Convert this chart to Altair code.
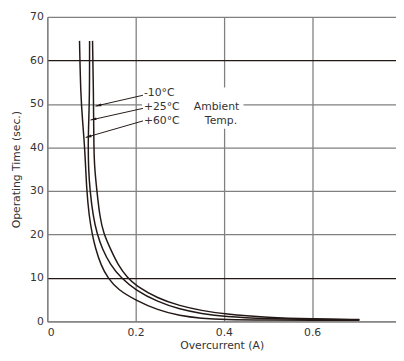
import altair as alt
import pandas as pd

# --- data ---
a_x = [0.073, 0.0757, 0.080, 0.0853, 0.089, 0.095, 0.1016, 0.109, 0.122, 0.137, 0.16, 0.2, 0.25, 0.3, 0.35, 0.4, 0.5, 0.6, 0.707]
a_y = [64.5, 52, 46, 39.3, 30.3, 24, 20.2, 16.8, 12.8, 10, 7.3, 4.9, 2.6, 1.3, 0.7, 0.4, 0.3, 0.3, 0.3]
b_x = [0.0958, 0.0958, 0.0935, 0.0925, 0.0935, 0.0965, 0.104, 0.1127, 0.124, 0.143, 0.167, 0.2, 0.25, 0.3, 0.35, 0.4, 0.5, 0.6, 0.707]
b_y = [64.5, 52, 45, 40, 35, 30.3, 24, 20.2, 16.8, 13, 10, 7.2, 4.5, 2.8, 1.8, 1.1, 0.6, 0.45, 0.4]
c_x = [0.1025, 0.1047, 0.1053, 0.1065, 0.112, 0.119, 0.1276, 0.1425, 0.16, 0.182, 0.2, 0.25, 0.3, 0.35, 0.4, 0.5, 0.6, 0.707]
c_y = [64.5, 52, 41.6, 36, 30.3, 24, 20.2, 16.8, 13, 10, 8.3, 5.3, 3.6, 2.5, 1.7, 0.9, 0.6, 0.45]

label_text = ["-10°C", "+25°C", "+60°C"]
label_x = [0.2189, 0.2189, 0.2189]
label_y = [52.6, 49.3, 46.1]
arrow_x0 = [0.2167, 0.2167, 0.2167]
arrow_y0 = [52.0, 48.98, 46.1]
arrow_x1 = [0.1091, 0.0980, 0.0869]
arrow_y1 = [49.5, 46.3, 42.3]
arrow_angle = [347, 347, 344]

note_text = ["Ambient", "Temp."]
note_x = [0.3318, 0.357]
note_y = [49.3, 46.0]

x_ticks = [0, 0.2, 0.4, 0.6]
y_ticks = [0, 10, 20, 30, 40, 50, 60, 70]

FONT = "DejaVu Sans"
INK = "#231815"
GRID = "#808080"

rows = []
for name, xs_, ys_ in [("+60°C", a_x, a_y), ("+25°C", b_x, b_y), ("-10°C", c_x, c_y)]:
    for i, (xv, yv) in enumerate(zip(xs_, ys_)):
        rows.append({"x": xv, "y": yv, "s": name, "i": i})
curves = pd.DataFrame(rows)

labels = pd.DataFrame({"x": label_x, "y": label_y, "t": label_text})
arrows = pd.DataFrame({"x": arrow_x0, "y": arrow_y0, "x2": arrow_x1, "y2": arrow_y1,
                       "tx": arrow_x1, "ty": arrow_y1, "a": arrow_angle})
notes = pd.DataFrame({"x": note_x, "y": note_y, "t": note_text})
mask = pd.DataFrame({"x": [0.2145], "x2": [0.4445], "y": [44.3], "y2": [53.8]})

xs = alt.Scale(domain=[0, 0.79], nice=False)
ys = alt.Scale(domain=[0, 70], nice=False)

line = alt.Chart(curves).mark_line(color=INK, strokeWidth=1.5, interpolate="basis").encode(
    x=alt.X("x:Q", scale=xs, title="Overcurrent (A)",
            axis=alt.Axis(values=x_ticks, format=".1~f", grid=True, gridColor=GRID, gridWidth=1.3,
                          ticks=False, domainColor=GRID, domainWidth=1.3, labelPadding=5,
                          titlePadding=3)),
    y=alt.Y("y:Q", scale=ys, title="Operating Time (sec.)",
            axis=alt.Axis(values=y_ticks, grid=True,
                          gridColor={"condition": {"test": "datum.value == 60 || datum.value == 10", "value": INK},
                                     "value": GRID},
                          gridWidth=1.3, ticks=False, domainColor=GRID, domainWidth=1.3,
                          labelPadding=4, titlePadding=8)),
    detail="s:N",
    order="i:Q",
)

rect = alt.Chart(mask).mark_rect(color="white").encode(
    x=alt.X("x:Q", scale=xs), x2="x2:Q", y=alt.Y("y:Q", scale=ys), y2="y2:Q")

rules = alt.Chart(arrows).mark_rule(color=INK, strokeWidth=1).encode(
    x=alt.X("x:Q", scale=xs), y=alt.Y("y:Q", scale=ys), x2="x2:Q", y2="y2:Q")

heads = alt.Chart(arrows).mark_point(shape="M0,0 L1.5,-0.35 L1.5,0.35 Z", filled=True, color=INK,
                                     size=64, opacity=1).encode(
    x=alt.X("tx:Q", scale=xs), y=alt.Y("ty:Q", scale=ys), angle=alt.Angle("a:Q", scale=None))

txt = alt.Chart(labels).mark_text(align="left", baseline="middle", font=FONT, fontSize=11, color="#333").encode(
    x=alt.X("x:Q", scale=xs), y=alt.Y("y:Q", scale=ys), text="t:N")

note = alt.Chart(notes).mark_text(align="left", baseline="middle", font=FONT, fontSize=11, color="#333").encode(
    x=alt.X("x:Q", scale=xs), y=alt.Y("y:Q", scale=ys), text="t:N")

chart = alt.layer(rect, line, rules, heads, txt, note).properties(
    width=355, height=310,
    autosize=alt.AutoSizeParams(type="none"),
    padding={"left": 40, "top": 6, "right": 0, "bottom": 29},
).configure_view(strokeWidth=0).configure_axis(
    labelFont=FONT, labelFontSize=11, labelColor="#333",
    titleFont=FONT, titleFontSize=11, titleColor="#333", titleFontWeight="normal",
)

chart.save("out.html", embed_options={"renderer": "svg", "actions": False})
